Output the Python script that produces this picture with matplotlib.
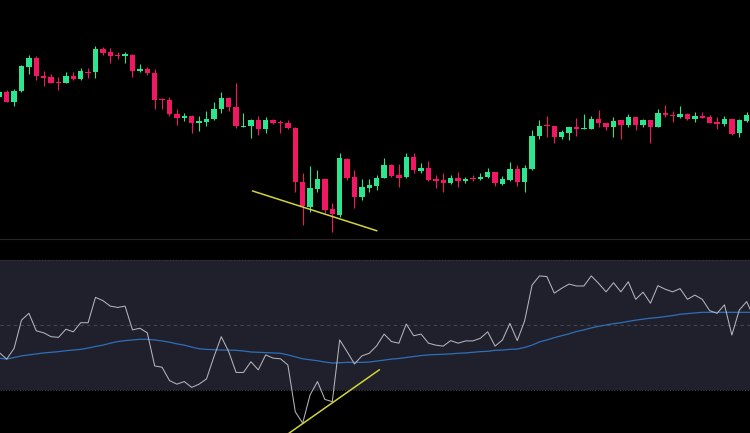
import numpy as np
import matplotlib.pyplot as plt
from matplotlib.lines import Line2D

# OHLC candles (price units)
opens = [143.3, 148.3, 138.3, 149, 173.3, 181.7, 164.3, 162.7, 158.3, 157.3,
         164, 161, 168, 168, 191, 187.7, 185.3, 184.3, 185, 169,
         171, 167.3, 141, 140, 126, 122, 124, 117.3, 118.3, 120.7,
         131, 142.3, 133, 113, 114, 120, 110.7, 120, 117.7, 116.7,
         112.3, 58.3, 33, 50.7, 60.7, 30.7, 25.5, 81.5, 62.7, 43.3,
         52.3, 54.3, 62.3, 75, 65, 62.7, 83.3, 69.3, 72, 61.3,
         60, 57.3, 62.3, 59, 62.3, 60.7, 62.7, 67.7, 56, 60,
         70.7, 57.7, 71.3, 104, 115, 114, 103.3, 107.3, 113, 111,
         111.3, 121, 116.7, 112.7, 119.7, 114.7, 122.7, 114.7, 119.7, 113.3,
         127.3, 125.3, 123.3, 126, 121, 124, 122.7, 118, 116, 120.7,
         106.7, 119]
highs = [150, 150, 151, 175, 185, 184, 169.3, 165.7, 162.7, 167.7,
         167.7, 172, 172, 194, 193.3, 191.7, 188.3, 187.7, 186, 176,
         173.3, 170.7, 141.7, 143.3, 131, 127.3, 125, 124, 129, 138.3,
         148.3, 143, 156.7, 126.7, 121, 124, 122.7, 120.7, 120, 120,
         113, 67.3, 74, 70, 61.5, 37, 86.7, 82.5, 70, 60.7,
         60.7, 65, 81.7, 76, 76, 86.7, 87.3, 77.3, 79.3, 65,
         67.3, 65, 68.3, 62.7, 65, 66.7, 71.7, 68.3, 64, 78.3,
         75, 75, 110, 120, 124, 114.5, 110, 113.5, 122.3, 126,
         124, 130, 117.5, 122.7, 120, 126, 123, 120.7, 120, 130.7,
         135, 129, 134.3, 127.3, 127.7, 127.7, 125, 123.3, 124, 121,
         121, 128.3]
lows = [142, 138, 134.3, 148, 165.7, 160, 154.3, 156.7, 150, 156.7,
        160.5, 160.5, 161.7, 161.7, 185, 176.7, 180.7, 177.3, 162.7, 168.5,
        165, 130.7, 130.7, 124, 115, 119, 106.7, 109.3, 114, 120,
        126.7, 129, 111.7, 112.7, 101.7, 105, 106.7, 116, 106.7, 110.7,
        48.3, 15, 28.3, 48.3, 27.3, 8.3, 23.3, 60, 31.7, 40,
        48.3, 50, 61.7, 62.7, 53.3, 62.2, 66.7, 67.3, 59.5, 51.7,
        48.3, 56, 53.3, 57.3, 59.3, 60, 61.7, 54.3, 55, 59.3,
        54.3, 48.3, 70, 101, 103.3, 96.7, 100.7, 100, 104.3, 110.7,
        110.7, 112.7, 110, 103.3, 100.7, 112.7, 110, 112.7, 97.3, 112.7,
        122.7, 118.3, 121.7, 120, 118.3, 121.7, 116.7, 110.7, 114, 105,
        102.7, 118.3]
closes = [148.3, 138.3, 149.3, 174, 181.7, 164, 162.3, 157.3, 157.3, 164.3,
          161, 169.3, 167, 190.7, 187.3, 184, 184.3, 185.7, 169.3, 171,
          166.7, 140, 140, 126, 122.3, 124, 116.7, 119, 121, 131.3,
          142.3, 132.7, 114, 114, 120, 110.7, 120, 116.7, 116.7, 111.7,
          58.3, 34, 51.7, 60.7, 30, 26, 81.7, 61.7, 43.3, 52.7,
          55, 62.3, 75, 64, 62.3, 82.7, 70, 72.3, 60, 59.3,
          57.3, 62.3, 59, 61.3, 61, 63.3, 67.7, 56.7, 60.7, 71,
          58.3, 72, 104.3, 114.3, 114, 103.3, 107.7, 112.7, 111.3, 112,
          121, 117.3, 112.7, 119.3, 114.7, 122.7, 114.7, 119.7, 113.3, 127,
          125, 123.7, 126, 121, 124, 122, 117.3, 116.3, 120.7, 106,
          120, 124.7]

# RSI and its moving average
rsi = [41.5, 39.5, 42.8, 51.5, 53.6, 48.2, 47.6, 46.4, 46.2, 48.7,
       47.9, 50.7, 50.7, 58.5, 57.5, 55.8, 55.4, 55.8, 48.5, 49.0,
       47.6, 37.4, 37.0, 32.9, 31.8, 32.6, 30.8, 31.8, 33.4, 40.2,
       46.4, 41.8, 35.4, 35.4, 38.7, 36.2, 40.8, 39.8, 39.6, 37.7,
       23.3, 19.8, 28.5, 32.6, 27.1, 26.4, 45.4, 41.8, 38.0, 40.5,
       41.3, 43.6, 47.2, 44.9, 44.4, 50.3, 46.7, 47.2, 44.4, 43.8,
       43.5, 45.2, 44.4, 45.1, 45.1, 45.9, 47.9, 43.5, 45.4, 50.5,
       45.2, 51.3, 62.3, 65.1, 64.9, 59.8, 61.3, 62.6, 62.0, 62.0,
       65.1, 62.8, 60.2, 63.0, 60.2, 63.3, 57.9, 60.1, 56.7, 62.1,
       61.0, 60.2, 61.2, 57.9, 59.2, 57.9, 54.4, 53.6, 56.2, 46.9,
       54.6, 57.2, 52.2]
rsi_ma = [39.8, 39.5, 40.0, 40.5, 40.8, 41.1, 41.4, 41.6, 41.8, 42.1,
          42.3, 42.5, 42.9, 43.4, 43.8, 44.4, 44.9, 45.2, 45.4, 45.6,
          45.6, 45.4, 45.1, 44.7, 44.2, 43.8, 43.2, 42.7, 42.5, 42.4,
          42.3, 42.3, 42.2, 42.0, 41.7, 41.6, 41.5, 41.4, 41.3, 40.8,
          40.2, 39.6, 39.3, 39.0, 38.6, 38.3, 38.4, 38.5, 38.5, 38.5,
          38.6, 38.9, 39.2, 39.5, 39.7, 40.0, 40.3, 40.6, 40.8, 40.9,
          41.0, 41.1, 41.3, 41.4, 41.6, 41.8, 41.9, 42.2, 42.3, 42.5,
          42.6, 43.1, 43.8, 44.8, 45.4, 46.1, 46.7, 47.3, 48.0, 48.5,
          49.1, 49.6, 50.0, 50.4, 50.7, 51.1, 51.5, 51.8, 52.1, 52.3,
          52.6, 52.9, 53.3, 53.5, 53.7, 53.9, 53.9, 53.9, 53.9, 53.9,
          53.9, 53.9, 53.9]

# divergence lines (bar index, value)
price_trend_x = [34.24, 51.0]
price_trend_y = [49, 9.3]
rsi_trend_x = [38.9, 51.35]
rsi_trend_y = [16.3, 36.2]

up_color = '#2ee58f'
down_color = '#f01865'
yellow = '#d2d43a'

fig = plt.figure(figsize=(7.5, 4.33), dpi=100, facecolor='black')
ax1 = fig.add_axes([0, 194 / 433, 1, 239 / 433])
ax2 = fig.add_axes([0, 0, 1, 193 / 433])

x = np.arange(len(opens))
o = np.array(opens)
c = np.array(closes)
colors = [up_color if cc >= oo else down_color for oo, cc in zip(o, c)]

# candles
ax1.vlines(x, lows, highs, colors=colors, linewidth=0.8)
body = np.maximum(np.abs(c - o), 1.0)
ax1.bar(x, body, bottom=np.minimum(o, c), width=0.72, color=colors, linewidth=0)
ax1.plot(price_trend_x, price_trend_y, color=yellow, linewidth=1.1)

xlim = (0.095, 101.45)
ax1.set_xlim(*xlim)
ax1.set_ylim(1, 240)

# RSI panel
xr = np.arange(len(rsi))
ax2.axhspan(30, 70, color='#1f202b', linewidth=0)
ax2.axhline(70, color='#3c3d48', linewidth=0.8, linestyle=(0, (1, 1.5)))
ax2.axhline(30, color='#3c3d48', linewidth=0.8, linestyle=(0, (1, 1.5)))
ax2.axhline(50, color='#44454f', linewidth=0.8, linestyle=(0, (3, 3)))
ax2.plot(xr, rsi_ma, color='#2f6fb8', linewidth=0.9)
ax2.plot(xr, rsi, color='#b4b4bc', linewidth=0.75)
ax2.plot(rsi_trend_x, rsi_trend_y, color=yellow, linewidth=1.1)
ax2.set_xlim(*xlim)
ax2.set_ylim(16.77, 76.15)

for ax in (ax1, ax2):
    ax.set_facecolor('black')
    ax.axis('off')

# panel separator
fig.add_artist(Line2D([0, 1], [194 / 433, 194 / 433], color='#262626', linewidth=0.8))

fig.savefig('out.png', dpi=100, facecolor='black')
